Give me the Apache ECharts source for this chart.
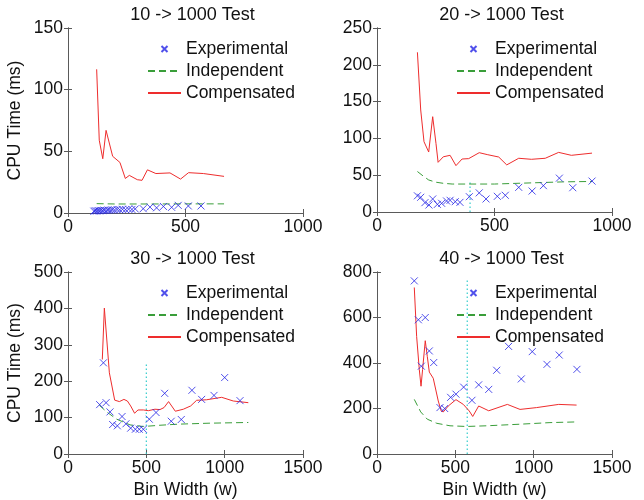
<!DOCTYPE html>
<html>
<head>
<meta charset="utf-8">
<script src="https://cdn.jsdelivr.net/npm/echarts@6/dist/echarts.min.js"></script>
<style>
  html, body { margin: 0; padding: 0; background: #fff; }
  #chart { width: 644px; height: 500px; }
</style>
</head>
<body>
<div id="chart"></div>
<script>
// panel titles
const titles = ["10 -> 1000 Test", "20 -> 1000 Test", "30 -> 1000 Test", "40 -> 1000 Test"];

// 10 -> 1000
const exp10 = [[110,1.5],[116,1.8],[122,1.6],[128,2],[134,1.7],[140,2.1],[147,1.9],[154,2.3],[162,2],[170,2.4],[179,2.2],[188,2.6],[198,2.4],[209,2.8],[220,2.6],[232,3],[245,2.7],[258,3.1],[272,2.9],[286,3.3],[320,3.5],[349,4.8],[377,4.2],[406,5.3],[441,4.6],[469,6.2],[512,5.7],[566,5.7]];
const ind10 = [[122,7.6],[200,7.3],[350,7.3],[500,7.4],[664,7.4]];
const comp10 = [[122,116.5],[133,59],[148,44],[162,67],[190,46],[221,41],[244,28],[261,30.5],[295,27],[315,26.5],[338,35],[374,32],[434,32.5],[479,27.5],[513,32.7],[576,32],[664,29.7]];

// 20 -> 1000
const exp20 = [[172,22],[186,20],[204,12.7],[221,9.5],[237,17.7],[257,10.4],[275,11.8],[296,15],[311,15.9],[333,14],[353,13.1],[393,20.8],[435,26],[464,17.7],[512,21.3],[546,22.7],[603,33.5],[660,28.5],[708,35.8],[776,46],[833,33],[915,42]];
const ind20 = [[172,55],[200,48],[220,43.5],[250,40.5],[282,39],[320,38],[400,38],[500,38],[600,39],[700,40],[800,41],[915,41.5]];
const comp20 = [[172,217],[186,138.6],[200,95.5],[220,81.5],[237,129.5],[251,93],[260,67.5],[282,75],[311,77],[336,63],[362,72],[390,72.5],[435,80.6],[469,78],[518,74.7],[552,64],[603,73],[657,71.6],[716,73],[773,81],[827,77],[915,80]];
const vline20 = [[396,0],[396,40]];

// 30 -> 1000
const exp30 = [[202,135.7],[226,250.5],[243,141],[268,115.6],[285,81],[315,77.4],[345,103],[370,83],[400,71],[430,68],[455,68],[481,68],[519,95.6],[562,114],[617,166.7],[659,90],[723,94.8],[791,175],[853,150],[932,161],[1000,210],[1098,146.6]];
const ind30 = [[200,134],[247,115.6],[311,95.6],[396,80],[481,75.5],[587,79],[704,82],[906,84.7],[1151,86.6]];
const comp30 = [[219,259.6],[232,400.8],[264,223],[298,148],[328,144],[357,150],[379,145.6],[400,132],[425,112],[447,121],[481,121],[513,119],[555,123],[587,122],[613,127.5],[642,144],[685,117.5],[736,123],[783,132],[821,147.5],[885,149],[981,155.7],[1055,145.6],[1151,141]];
const vline30 = [[500,0],[500,246]];

// 40 -> 1000
const exp40 = [[238,761],[264,590],[283,386],[308,600],[334,453],[362,402],[402,204],[432,200],[470,249],[504,263],[553,294],[606,236],[649,304],[713,284],[764,368],[840,473],[921,330],[991,450],[1085,394],[1163,435],[1276,372]];
const ind40 = [[238,240],[279,185],[321,153],[381,135],[466,124],[572,121],[700,124],[913,131],[1104,138],[1274,141]];
const comp40 = [[238,732],[253,517],[270,371],[281,298],[291,371],[308,498],[321,429],[334,360],[359,333],[391,233],[410,189],[423,185],[455,211],[504,239],[551,218],[589,189],[611,165],[649,211],[713,190],[832,218],[913,196],[1019,204],[1160,218],[1274,215]];
const vline40 = [[576,0],[576,765]];

const expData = [exp10, exp20, exp30, exp40];
const indData = [ind10, ind20, ind30, ind40];
const compData = [comp10, comp20, comp30, comp40];
const vlines = [null, vline20, vline30, vline40];

const xMax = [1000, 1000, 1500, 1500];
const yMax = [150, 250, 500, 800];
const yStep = [50, 50, 100, 200];

const FONT = "Liberation Sans, Arial, sans-serif";
const TXT = "#111";
const grids = [
  { left: 68, top: 28, width: 235, height: 185 },
  { left: 377, top: 28, width: 235, height: 184 },
  { left: 68, top: 272, width: 235, height: 183 },
  { left: 377, top: 272, width: 235, height: 183 },
];

const axisCol = "#5a5a5a";
const plain = (v) => String(v);
const xAxes = [], yAxes = [], series = [], legends = [], titleList = [];

grids.forEach((g, i) => {
  const bottomRow = i >= 2;
  const leftCol = i % 2 === 0;
  // bottom / left axes with labels
  xAxes.push({
    type: "value", gridIndex: i, min: 0, max: xMax[i], interval: 500,
    splitLine: { show: false },
    axisLine: { lineStyle: { color: axisCol } },
    axisTick: { inside: true, length: 4, lineStyle: { color: axisCol } },
    axisLabel: { color: TXT, fontSize: 17.5, fontFamily: FONT, margin: 5, formatter: plain },
    name: bottomRow ? "Bin Width (w)" : "",
    nameLocation: "middle", nameGap: 27,
    nameTextStyle: { color: TXT, fontSize: 17.5, fontFamily: FONT },
  });
  yAxes.push({
    type: "value", gridIndex: i, min: 0, max: yMax[i], interval: yStep[i],
    splitLine: { show: false },
    axisLine: { show: true, lineStyle: { color: axisCol } },
    axisTick: { show: true, inside: true, length: 4, lineStyle: { color: axisCol } },
    axisLabel: { color: TXT, fontSize: 17.5, fontFamily: FONT, margin: 5, formatter: plain },
    name: leftCol ? "CPU Time (ms)" : "",
    nameLocation: "middle", nameGap: 44,
    nameTextStyle: { color: TXT, fontSize: 17.5, fontFamily: FONT },
  });
  titleList.push({
    text: titles[i], left: g.left + g.width / 2 + 2, textAlign: "center",
    top: bottomRow ? 245 : 1,
    textStyle: { color: TXT, fontSize: 18, fontWeight: "normal", fontFamily: FONT },
  });
  legends.push({
    orient: "vertical", left: g.left + 74, top: g.top + 7,
    selectedMode: false, itemWidth: 33, itemHeight: 6, itemGap: 4,
    textStyle: { color: TXT, fontSize: 17.5, fontFamily: FONT, lineHeight: 17 },
    data: [
      { name: "Experimental" },
      { name: "Independent", itemStyle: { opacity: 0 } },
      { name: "Compensated", itemStyle: { opacity: 0 } },
    ],
  });
});
// top / right mirror axes (box + ticks)
grids.forEach((g, i) => {
  xAxes.push({
    type: "value", gridIndex: i, position: "top", min: 0, max: xMax[i], interval: 500,
    splitLine: { show: false }, axisLabel: { show: false },
    axisLine: { lineStyle: { color: axisCol } },
    axisTick: { inside: true, length: 4, lineStyle: { color: axisCol } },
  });
  yAxes.push({
    type: "value", gridIndex: i, position: "right", min: 0, max: yMax[i], interval: yStep[i],
    splitLine: { show: false }, axisLabel: { show: false },
    axisLine: { show: true, lineStyle: { color: axisCol } },
    axisTick: { show: true, inside: true, length: 4, lineStyle: { color: axisCol } },
  });
});

for (let i = 0; i < 4; i++) {
  if (vlines[i]) {
    series.push({
      type: "line", xAxisIndex: i, yAxisIndex: i, data: vlines[i], symbol: "none",
      lineStyle: { color: "#33cccc", width: 1.2, type: [1.5, 2.5] }, silent: true, z: 1,
    });
  }
  series.push({
    name: "Experimental", type: "scatter", xAxisIndex: i, yAxisIndex: i, data: expData[i],
    symbol: "path://M0,0L10,10M10,0L0,10", symbolSize: 7,
    itemStyle: { color: "rgba(0,0,0,0)", borderColor: "#2424e6", borderWidth: 1 }, z: 4,
  });
  series.push({
    name: "Independent", type: "line", xAxisIndex: i, yAxisIndex: i, data: indData[i], symbol: "none",
    itemStyle: { color: "#3a9e3a" },
    lineStyle: { color: "#3a9e3a", width: 1, type: [7, 4] }, z: 2,
  });
  series.push({
    name: "Compensated", type: "line", xAxisIndex: i, yAxisIndex: i, data: compData[i], symbol: "none",
    itemStyle: { color: "#ee2d2d" },
    lineStyle: { color: "#ee2d2d", width: 1 }, z: 3,
  });
}

const chart = echarts.init(document.getElementById("chart"), null, { renderer: "canvas" });
chart.setOption({
  animation: false,
  backgroundColor: "#fff",
  title: titleList,
  legend: legends,
  grid: grids,
  xAxis: xAxes,
  yAxis: yAxes,
  series: series,
});
</script>
</body>
</html>
